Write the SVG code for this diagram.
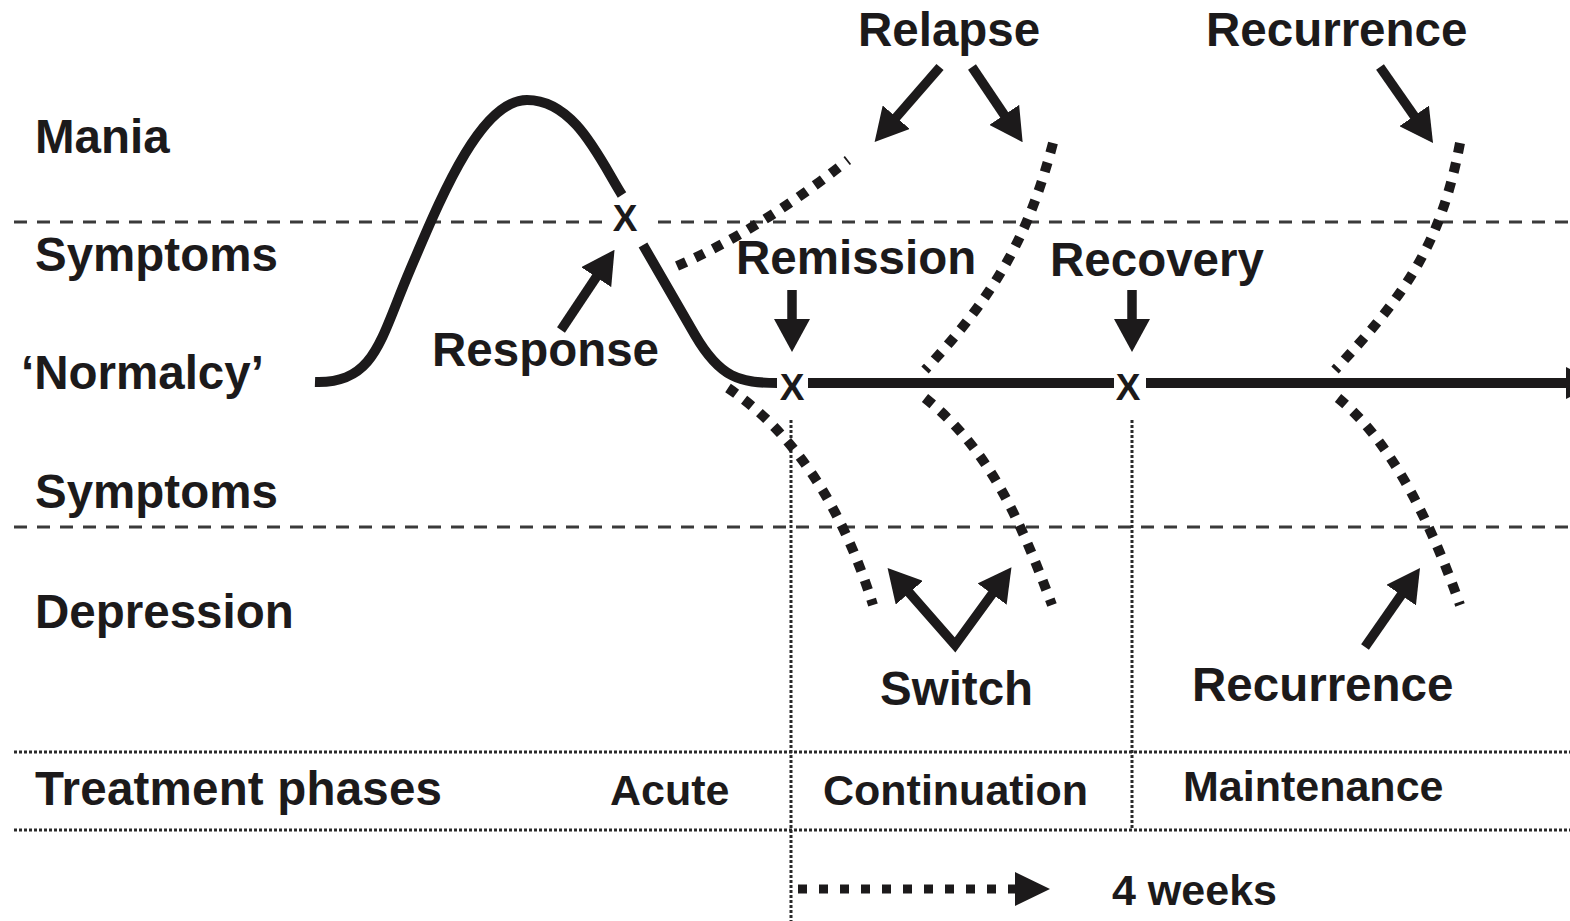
<svg xmlns="http://www.w3.org/2000/svg" width="1570" height="921" viewBox="0 0 1570 921">
<style>
.lbl{font-family:"Liberation Sans",Arial,sans-serif;font-weight:bold;font-size:47.5px;fill:#1c1a1b}
.ph{font-family:"Liberation Sans",Arial,sans-serif;font-weight:bold;font-size:43px;fill:#1c1a1b}
.xm{font-family:"Liberation Sans",Arial,sans-serif;font-weight:bold;font-size:37px;fill:#1c1a1b}
.dash{stroke:#3a3a3a;stroke-width:3;stroke-dasharray:13 10;fill:none}
.dot{stroke:#2a2a2a;stroke-width:3;stroke-dasharray:3 2;fill:none}
.solid{stroke:#1c1a1b;stroke-width:10;fill:none}
.sq{stroke:#1c1a1b;stroke-width:10;stroke-dasharray:10 10;fill:none}
.arr{stroke:#1c1a1b;stroke-width:9.5;fill:none;marker-end:url(#ah)}
</style>
<defs>
<marker id="ah" markerUnits="userSpaceOnUse" viewBox="0 0 33 36" markerWidth="33" markerHeight="36" refX="5" refY="18" orient="auto">
<path d="M0,0 L33,18 L0,36 z" fill="#1c1a1b"/>
</marker>
<marker id="ahs" markerUnits="userSpaceOnUse" viewBox="0 0 33 36" markerWidth="33" markerHeight="36" refX="5" refY="18" orient="auto-start-reverse">
<path d="M0,0 L33,18 L0,36 z" fill="#1c1a1b"/>
</marker>
</defs>
<rect width="1570" height="921" fill="#ffffff"/>

<g id="gridlines">
<line class="dash" x1="14" y1="222" x2="605" y2="222"/>
<line class="dash" x1="658" y1="222" x2="1570" y2="222"/>
<line class="dash" x1="14" y1="527" x2="1570" y2="527"/>
<line class="dot" x1="14" y1="752" x2="1570" y2="752"/>
<line class="dot" x1="14" y1="830" x2="1570" y2="830"/>
<line class="dot" x1="791" y1="420" x2="791" y2="921"/>
<line class="dot" x1="1132" y1="420" x2="1132" y2="830"/>
</g>

<g id="row-labels">
<text class="lbl" x="35" y="153">Mania</text>
<text class="lbl" x="35" y="271">Symptoms</text>
<text class="lbl" x="21" y="389">‘Normalcy’</text>
<text class="lbl" x="35" y="508">Symptoms</text>
<text class="lbl" x="35" y="628">Depression</text>
<text class="lbl" x="35" y="805" textLength="407" lengthAdjust="spacing">Treatment phases</text>
</g>

<g id="phase-labels">
<text class="ph" x="610" y="805">Acute</text>
<text class="ph" x="823" y="805">Continuation</text>
<text class="ph" x="1183" y="801">Maintenance</text>
<text class="ph" x="1112" y="905">4 weeks</text>
</g>

<g id="course">
<path class="solid" d="M315,382 C375,384 380,340 410,270 C440,200 480,100 527,100 C575,100 600,160 622,195"/>
<path class="solid" d="M643,245 L695,335 C720,378 740,383 777,383"/>
<line class="solid" x1="808" y1="383" x2="1114" y2="383"/>
<line class="solid" x1="1146" y1="383" x2="1570" y2="383"/>
<path d="M1566,367 L1598,383 L1566,399 z" fill="#1c1a1b"/>
</g>

<g id="x-marks">
<text class="xm" x="625" y="231" text-anchor="middle">X</text>
<text class="xm" x="792" y="400" text-anchor="middle">X</text>
<text class="xm" x="1128" y="400" text-anchor="middle">X</text>
</g>

<g id="dotted-courses">
<path class="sq" d="M677,266 Q760,230 848,160"/>
<path class="sq" d="M1053,143 C1030,230 1000,290 925,370"/>
<path class="sq" d="M925,398 C990,450 1020,520 1052,605"/>
<path class="sq" d="M728,388 C790,430 840,500 873,605"/>
<path class="sq" d="M1460,143 C1440,250 1400,300 1335,370"/>
<path class="sq" d="M1338,398 C1390,440 1430,520 1460,605"/>
</g>

<g id="event-labels">
<text class="lbl" x="858" y="46">Relapse</text>
<text class="lbl" x="1206" y="46">Recurrence</text>
<text class="lbl" x="736" y="274">Remission</text>
<text class="lbl" x="1050" y="276">Recovery</text>
<text class="lbl" x="432" y="366">Response</text>
<text class="lbl" x="880" y="705">Switch</text>
<text class="lbl" x="1192" y="701">Recurrence</text>
</g>

<g id="connectors">
<line class="arr" x1="940" y1="67" x2="893" y2="121"/>
<line class="arr" x1="972" y1="67" x2="1007" y2="119"/>
<line class="arr" x1="1380" y1="67" x2="1417" y2="120"/>
<line class="arr" x1="561" y1="330" x2="599" y2="273"/>
<line class="arr" x1="792" y1="290" x2="792" y2="324"/>
<line class="arr" x1="1132" y1="290" x2="1132" y2="324"/>
<path d="M906,589 L955,645 L995,590" stroke="#1c1a1b" stroke-width="9.5" fill="none" stroke-linejoin="miter" marker-start="url(#ahs)" marker-end="url(#ah)"/>
<line class="arr" x1="1365" y1="647" x2="1404" y2="591"/>
<line x1="798" y1="889" x2="1015" y2="889" stroke="#1c1a1b" stroke-width="9" stroke-dasharray="9 12"/>
<path d="M1015,872 L1050,889 L1015,906 z" fill="#1c1a1b"/>
</g>
</svg>
